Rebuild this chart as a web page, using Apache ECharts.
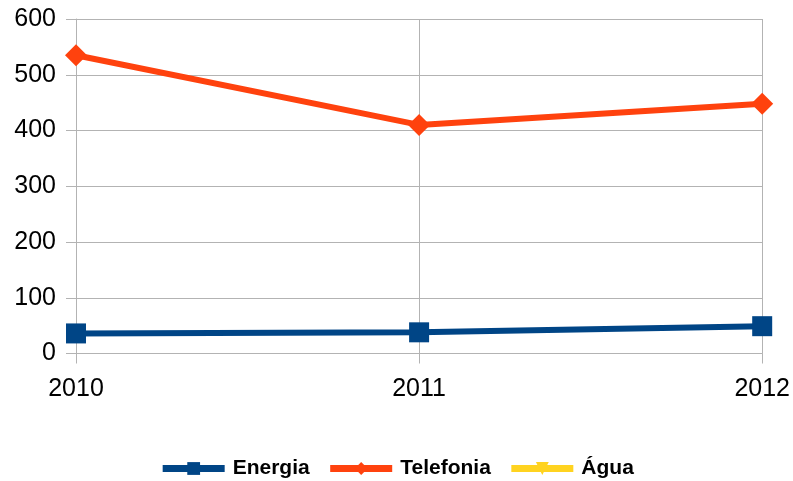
<!DOCTYPE html>
<html><head><meta charset="utf-8">
<script src="https://cdn.jsdelivr.net/npm/echarts@6/dist/echarts.min.js"></script>
<style>html,body{margin:0;padding:0;background:#fff}#c{width:793px;height:481px}</style>
</head><body><div id="c"></div>
<script>
const categories = ['2010', '2011', '2012'];
const energia = [36, 38, 49];
const telefonia = [535, 410, 448];
const agua = [null, null, null];
const yTicks = [0, 100, 200, 300, 400, 500, 600];

const chart = echarts.init(document.getElementById('c'), null, {renderer: 'canvas'});
const gridColor = '#b3b3b3';
chart.setOption({
  animation: false,
  backgroundColor: '#fff',
  grid: {left: 76, right: 30, top: 19, bottom: 127.5, containLabel: false},
  xAxis: {
    type: 'category', data: categories, boundaryGap: false,
    axisLine: {lineStyle: {color: gridColor, width: 1}},
    axisTick: {show: true, length: 10, alignWithLabel: true, lineStyle: {color: gridColor}},
    splitLine: {show: true, lineStyle: {color: gridColor, width: 1}},
    axisLabel: {color: '#000', fontSize: 25, fontFamily: 'Liberation Sans', margin: 23}
  },
  yAxis: {
    type: 'value', min: yTicks[0], max: yTicks[yTicks.length - 1], interval: 100,
    axisLine: {show: true, lineStyle: {color: gridColor, width: 1}},
    axisTick: {show: true, length: 10, lineStyle: {color: gridColor}},
    splitLine: {show: true, lineStyle: {color: gridColor, width: 1}},
    axisLabel: {color: '#000', fontSize: 25, fontFamily: 'Liberation Sans', margin: 20}
  },
  legend: {
    bottom: -3, left: 'center', itemWidth: 62, itemHeight: 16, itemGap: 17,
    lineStyle: {width: 7},
    textStyle: {color: '#000', fontSize: 21, fontWeight: 'bold', fontFamily: 'Liberation Sans', padding: [0, 0, 0, 3]},
    data: ['Energia', 'Telefonia', 'Água']
  },
  series: [
    {name: 'Energia', type: 'line', data: energia, color: '#004586',
     lineStyle: {width: 6, color: '#004586'}, symbol: 'rect', symbolSize: 20,
     itemStyle: {color: '#004586'}},
    {name: 'Telefonia', type: 'line', data: telefonia, color: '#ff420e',
     lineStyle: {width: 6, color: '#ff420e'}, symbol: 'diamond', symbolSize: 22,
     itemStyle: {color: '#ff420e'}},
    {name: 'Água', type: 'line', data: agua, color: '#ffd320',
     lineStyle: {width: 6, color: '#ffd320'}, symbol: 'triangle', symbolRotate: 180, symbolSize: 18,
     itemStyle: {color: '#ffd320'}}
  ]
});
</script></body></html>
